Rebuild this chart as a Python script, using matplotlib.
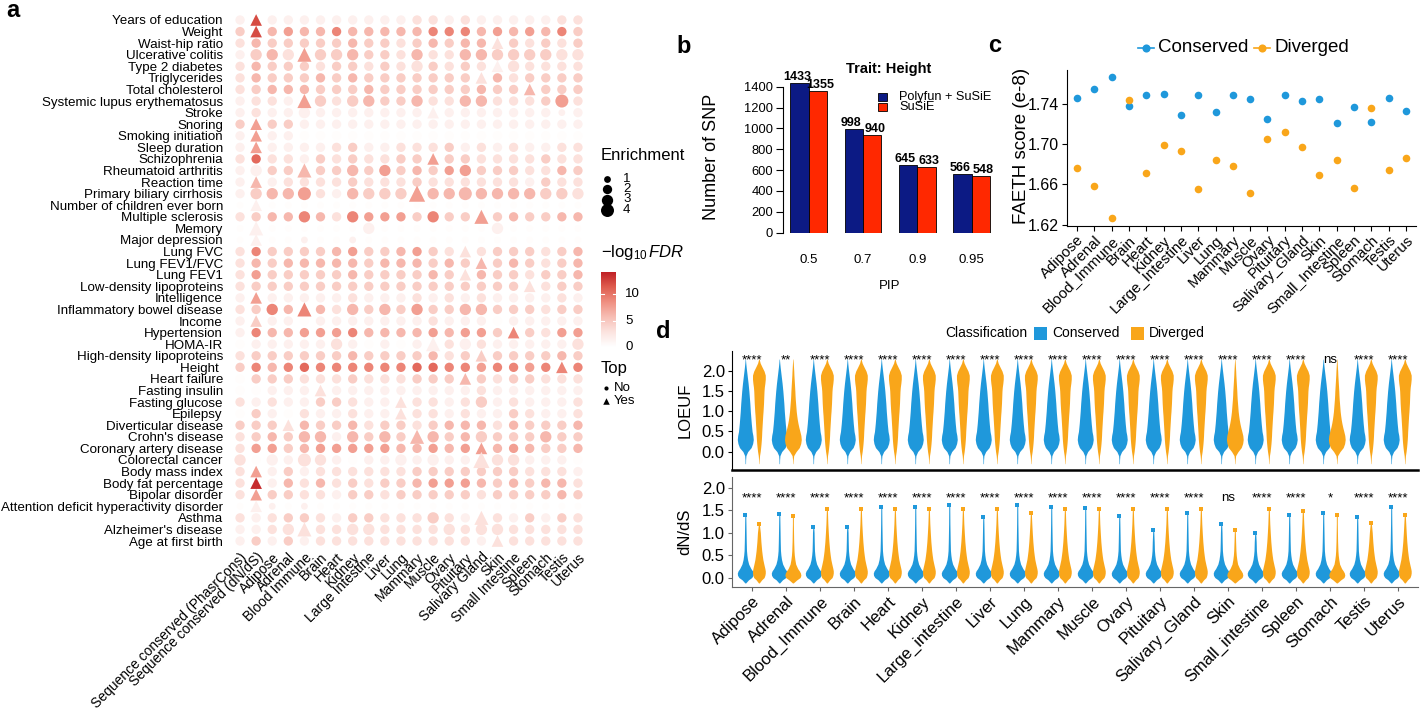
import numpy as np
import matplotlib
matplotlib.use('Agg')
import matplotlib.pyplot as plt
from matplotlib.colors import LinearSegmentedColormap
from matplotlib.patches import Rectangle
from matplotlib.lines import Line2D

plt.rcParams['font.family'] = ['Liberation Sans', 'DejaVu Sans']
plt.rcParams['mathtext.fontset'] = 'custom'
plt.rcParams['mathtext.rm'] = 'Liberation Sans'
plt.rcParams['mathtext.it'] = 'Liberation Sans:italic'

W, H = 1420, 716
fig = plt.figure(figsize=(W / 100, H / 100), dpi=100)


def px_axes(x0, y0, x1, y1):
    return fig.add_axes([x0 / W, 1 - y1 / H, (x1 - x0) / W, (y1 - y0) / H])


# ------------------------------------------------------------------ data (a)
traits = ["Years of education", "Weight", "Waist-hip ratio", "Ulcerative colitis",
          "Type 2 diabetes", "Triglycerides", "Total cholesterol",
          "Systemic lupus erythematosus", "Stroke", "Snoring", "Smoking initiation",
          "Sleep duration", "Schizophrenia", "Rheumatoid arthritis", "Reaction time",
          "Primary biliary cirrhosis", "Number of children ever born",
          "Multiple sclerosis", "Memory", "Major depression", "Lung FVC",
          "Lung FEV1/FVC", "Lung FEV1", "Low-density lipoproteins", "Intelligence",
          "Inflammatory bowel disease", "Income", "Hypertension", "HOMA-IR",
          "High-density lipoproteins", "Height ", "Heart failure", "Fasting insulin",
          "Fasting glucose", "Epilepsy", "Diverticular disease", "Crohn's disease",
          "Coronary artery disease", "Colorectal cancer", "Body mass index",
          "Body fat percentage", "Bipolar disorder",
          "Attention deficit hyperactivity disorder", "Asthma", "Alzheimer's disease",
          "Age at first birth"]
annotations = ["Sequence conserved (PhasrCons)", "Sequence conserved (dN/dS)", "Adipose",
               "Adrenal", "Blood Immune", "Brain", "Heart", "Kidney", "Large Intestine",
               "Liver", "Lung", "Mammary", "Muscle", "Ovary", "Pituitary",
               "Salivary Gland", "Skin", "Small Intestine", "Spleen", "Stomach",
               "Testis", "Uterus"]
# -log10 FDR, one digit per cell (value = digit * 1.5)
fdr_rows = ["1811111111122121111122", "3845446444446664545463", "2433333433234344232323",
            "1342533433242244333322", "2433323323223232122222", "2433343433333332423333",
            "2344433343333334334333", "1221532343342244222352", "1211111111111111111111",
            "3533111111111111111111", "1511000000000000000000", "1511112311222312121122",
            "2722132322335332222322", "1133433435343553332243", "1412222322232222221322",
            "1344521433354444444332", "0100000000000000000000", "2344642655536335343344",
            "0100000010000000100000", "0100100100000000000000", "2633334533453222333234",
            "2434444434443434343234", "2533333433334324332334", "2333333333333333332233",
            "1511111211121212111121", "2364642434353344333233", "1311011111112111011111",
            "1644555644445455363255", "0111112101011212111112", "2333333433334233333343",
            "3646766666677665665666", "0333222322233343233222", "0011121111111112111111",
            "2121133211222123121112", "0310211211222121132112", "3332433423323444243334",
            "2343441434344343333433", "2553455555445455454334", "2011221011111112221110",
            "2513122222233333332221", "2914242323345554343442", "2533221332333332333343",
            "0110100000000000000000", "2123321332223212213132", "1122222222222222222222",
            "1313122222222221222222"]
# Enrichment, one digit per cell
enr_rows = ["2222222222222222222222", "2222222222222222222222", "2222222222222222222222",
            "2333333322232233333333", "2222222222232222232222", "2222222222222222222222",
            "2222222222222222222222", "2222332332232233222242", "2222322222222222222212",
            "2222222222222222222222", "2222222222222222222222", "2222222222222222222222",
            "2222222222222222222222", "2322322323222232222222", "2222222222222222222222",
            "2333422333343343333333", "1211111111111111111111", "2222322322223223222222",
            "1311111131111111311111", "1211111111111111111111", "2222222222222222222222",
            "2222222222222222222222", "2222222222222222222222", "2222222222222222222222",
            "2222222222222222222222", "2232322323232233222222", "2222222222222222222222",
            "2222222222222222222222", "2222223222223232222223", "2222222222222222222222",
            "2222222222222222222222", "2222222222222222222222", "2222222222222222222222",
            "2222222222222223222222", "2222222222222222222222", "2222222222222222222222",
            "2222332323233223222322", "2222222222222222222222", "3232432222323224332222",
            "2222222222222222222222", "2222222222222222222222", "2222222222222222222222",
            "1211111111111111111111", "2222222222223223222222", "2223322332222323322222",
            "2222222222222222222222"]
top_cells = [(0, 1), (1, 1), (2, 16), (3, 4), (4, 16), (5, 15), (6, 18), (7, 4), (8, 12),
             (9, 1), (10, 1), (11, 1), (12, 12), (13, 4), (14, 1), (15, 11), (16, 1),
             (17, 15), (18, 1), (19, 1), (20, 14), (21, 15), (22, 14), (23, 18), (24, 1),
             (25, 4), (26, 1), (27, 17), (28, 12), (29, 15), (30, 20), (31, 14), (32, 5),
             (33, 10), (34, 10), (35, 3), (36, 11), (37, 15), (38, 15), (39, 1), (40, 1),
             (41, 1), (42, 1), (43, 15), (44, 4), (45, 16)]
FDR_STEP = 1.5
FDR_MAX = 14.2

# ------------------------------------------------------------------ data (b)
pip_labels = ["0.5", "0.7", "0.9", "0.95"]
snp_polyfun = [1433, 998, 645, 566]
snp_susie = [1355, 940, 633, 548]

# ------------------------------------------------------------------ data (c)
tissues_c = ["Adipose", "Adrenal", "Blood_Immune", "Brain", "Heart", "Kidney",
             "Large_Intestine", "Liver", "Lung", "Mammary", "Muscle", "Ovary",
             "Pituitary", "Salivary_Gland", "Skin", "Small_Intestine", "Spleen",
             "Stomach", "Testis", "Uterus"]
faeth_cons = [1.746, 1.755, 1.7665, 1.7374, 1.7486, 1.7499, 1.7288, 1.7483, 1.7317, 1.7483,
              1.745, 1.7244, 1.7483, 1.743, 1.7443, 1.7211, 1.737, 1.7218, 1.7456, 1.7327]
faeth_div = [1.6765, 1.658, 1.6265, 1.744, 1.6715, 1.6993, 1.693, 1.6556, 1.6838, 1.6778,
             1.6513, 1.7053, 1.7119, 1.6967, 1.6689, 1.6841, 1.6566, 1.736, 1.6745, 1.6864]

# ------------------------------------------------------------------ data (d)
tissues_d = ["Adipose", "Adrenal", "Blood_Immune", "Brain", "Heart", "Kidney",
             "Large_intestine", "Liver", "Lung", "Mammary", "Muscle", "Ovary",
             "Pituitary", "Salivary_Gland", "Skin", "Small_intestine", "Spleen",
             "Stomach", "Testis", "Uterus"]
# violin outlines: relative half-width at each LOEUF level
loeuf_y = [-0.3, -0.2, -0.1, 0.0, 0.1, 0.2, 0.3, 0.4, 0.5, 0.6, 0.7, 0.8, 0.9, 1.0, 1.1,
           1.2, 1.3, 1.4, 1.5, 1.6, 1.7, 1.8, 1.9, 2.0, 2.1, 2.2, 2.3]
loeuf_cons_w = [0.03, 0.04, 0.08, 0.3, 0.73, 0.92, 1.0, 0.95, 0.85, 0.8, 0.75, 0.71, 0.67,
                0.63, 0.6, 0.57, 0.53, 0.49, 0.45, 0.4, 0.35, 0.29, 0.23, 0.17, 0.11, 0.06, 0.02]
loeuf_div_w = [0.02, 0.04, 0.08, 0.16, 0.22, 0.27, 0.31, 0.34, 0.36, 0.39, 0.42, 0.45, 0.48,
               0.52, 0.55, 0.58, 0.6, 0.62, 0.64, 0.68, 0.75, 0.8, 0.8, 0.65, 0.4, 0.16, 0.03]
loeuf_divlow_w = [0.02, 0.04, 0.1, 0.4, 0.8, 0.98, 1.05, 1.0, 0.88, 0.75, 0.64, 0.55, 0.48,
                  0.42, 0.38, 0.34, 0.3, 0.27, 0.25, 0.22, 0.19, 0.16, 0.13, 0.11, 0.08, 0.05, 0.02]
loeuf_div_shape = ["high", "low", "high", "high", "high", "high", "high", "high", "high",
                   "high", "high", "high", "high", "high", "low", "high", "high", "low",
                   "high", "high"]
loeuf_sig = ["****", "**", "****", "****", "****", "****", "****", "****", "****", "****",
             "****", "****", "****", "****", "****", "****", "****", "ns", "****", "****"]

dnds_y = [-0.12, -0.05, 0.0, 0.05, 0.1, 0.15, 0.2, 0.3, 0.4, 0.5, 0.6, 0.8, 1.0, 1.2]
dnds_cons_w = [0.05, 0.4, 0.8, 0.97, 1.0, 0.9, 0.7, 0.42, 0.28, 0.2, 0.15, 0.12, 0.1, 0.08]
dnds_div_w = [0.05, 0.35, 0.65, 0.75, 0.8, 0.8, 0.75, 0.62, 0.5, 0.42, 0.35, 0.25, 0.18, 0.12]
dnds_divlow_w = [0.05, 0.5, 0.9, 1.0, 0.95, 0.8, 0.6, 0.35, 0.25, 0.18, 0.14, 0.1, 0.08, 0.06]
dnds_div_shape = ["high", "low", "high", "high", "high", "high", "high", "high", "high",
                  "high", "high", "high", "high", "high", "low", "high", "high", "low",
                  "high", "high"]
dnds_cons_max = [1.39, 1.42, 1.13, 1.13, 1.57, 1.57, 1.62, 1.35, 1.62, 1.57, 1.55, 1.37,
                 1.05, 1.44, 1.2, 1.0, 1.4, 1.44, 1.35, 1.57]
dnds_div_max = [1.19, 1.37, 1.52, 1.52, 1.52, 1.52, 1.52, 1.52, 1.44, 1.52, 1.52, 1.52,
                1.52, 1.52, 1.05, 1.52, 1.49, 1.4, 1.22, 1.4]
dnds_sig = ["****", "****", "****", "****", "****", "****", "****", "****", "****", "****",
            "****", "****", "****", "****", "ns", "****", "****", "*", "****", "****"]

BLUE = "#1f98db"
ORANGE = "#f9a61a"
NAVY = "#0c1a84"
RED = "#ff2800"

cmap = LinearSegmentedColormap.from_list(
    "fdr", ["#ffffff", "#fce3df", "#f7bdb3", "#ef8e80", "#de5a4d", "#be1e24"])


def enr_to_s(e):
    return 0.5184 * (41 * e + 5)


# ------------------------------------------------------------------ panel a
axa = px_axes(232, 14.2, 586, 546.8)
top_set = set(top_cells)
cx, cy, cc, cs = [], [], [], []
tx, ty, tc, ts = [], [], [], []
for i, (fr, er) in enumerate(zip(fdr_rows, enr_rows)):
    assert len(fr) == 22 and len(er) == 22, (i, fr, er)
    for j in range(22):
        v = max(int(fr[j]) * FDR_STEP, 0.25)
        e = int(er[j])
        if (i, j) in top_set:
            tx.append(j); ty.append(i); tc.append(v); ts.append(enr_to_s(e) * 1.55)
        else:
            cx.append(j); cy.append(i); cc.append(v); cs.append(enr_to_s(e))
axa.scatter(cx, cy, c=cc, s=cs, cmap=cmap, vmin=0, vmax=FDR_MAX, marker='o',
            linewidths=0)
axa.scatter(tx, ty, c=tc, s=ts, cmap=cmap, vmin=0, vmax=FDR_MAX, marker='^',
            linewidths=0)
axa.set_xlim(-0.5, 21.5)
axa.set_ylim(45.5, -0.5)
for sp in axa.spines.values():
    sp.set_visible(False)
axa.set_yticks(range(len(traits)), traits, fontsize=9.6)
axa.set_xticks(range(len(annotations)), annotations, fontsize=10.0, rotation=45,
               ha='right', rotation_mode='anchor')
axa.tick_params(axis='y', length=0, pad=6.5)
axa.tick_params(axis='x', length=0, pad=2.5)

# ------------------------------------------------------------------ panel b
axb = px_axes(782.7, 76, 997, 232.7)
g = np.arange(len(pip_labels))
bw = 0.337
axb.bar(g - bw / 2, snp_polyfun, bw, color=NAVY, edgecolor='black', lw=0.6)
axb.bar(g + bw / 2, snp_susie, bw, color=RED, edgecolor='black', lw=0.6)
for x, v in zip(g - bw / 2, snp_polyfun):
    axb.text(x - 0.05, v, str(v), ha='center', va='bottom', fontsize=9, fontweight='bold')
for x, v in zip(g + bw / 2, snp_susie):
    axb.text(x + 0.05, v, str(v), ha='center', va='bottom', fontsize=9, fontweight='bold')
axb.set_xlim(-0.479, 3.468)
axb.set_ylim(0, 1502.6)
for sp in ['top', 'right', 'bottom']:
    axb.spines[sp].set_visible(False)
axb.spines['left'].set_bounds(0, 1400)
axb.spines['left'].set_linewidth(0.8)
axb.set_yticks(range(0, 1401, 200))
axb.tick_params(axis='y', labelsize=9.3, length=5, width=0.8, pad=2)
axb.set_xticks(g, pip_labels)
axb.tick_params(axis='x', length=0, pad=15, labelsize=9.5)
axb.patch.set_alpha(0)

# ------------------------------------------------------------------ panel c
axc = px_axes(1066.6, 70, 1416.4, 225.5)
xc = np.arange(len(tissues_c))
axc.scatter(xc, faeth_cons, s=30, color=BLUE, zorder=3, linewidths=0)
axc.scatter(xc, faeth_div, s=30, color=ORANGE, zorder=3, linewidths=0)
axc.set_xlim(-0.6, 19.6)
axc.set_ylim(1.6191, 1.7735)
for sp in ['top', 'right']:
    axc.spines[sp].set_visible(False)
axc.set_yticks([1.62, 1.66, 1.70, 1.74], ["1.62", "1.66", "1.70", "1.74"])
axc.set_xticks(xc, tissues_c, rotation=45, ha='right', rotation_mode='anchor')
axc.tick_params(axis='y', labelsize=11.5, length=3.5, pad=2)
axc.tick_params(axis='x', labelsize=10.8, length=3.5, pad=2)
axc.patch.set_alpha(0)

# ------------------------------------------------------------------ panel d
halfw = 0.235
prof_loeuf = {"cons": loeuf_cons_w, "high": loeuf_div_w, "low": loeuf_divlow_w}
prof_dnds = {"cons": dnds_cons_w, "high": dnds_div_w, "low": dnds_divlow_w}


def violin(ax, xcen, ys, ws, color):
    ys = np.asarray(ys, float)
    ws = np.asarray(ws, float) * halfw
    ax.fill_betweenx(ys, xcen - ws, xcen + ws, color=color, lw=0)


def violin_tail(ax, xcen, ymax, ws_prof, color):
    ys = [y for y in dnds_y if y < ymax - 0.05]
    ws = list(ws_prof[:len(ys)])
    ys.append(ymax)
    ws.append(0.06)
    violin(ax, xcen, ys, ws, color)
    ax.plot([xcen], [ymax], 's', ms=3, color=color, mew=0)


axt = px_axes(731.7, 351, 1418.4, 470)
for i in range(len(tissues_d)):
    violin(axt, i - 0.2, loeuf_y, prof_loeuf["cons"], BLUE)
    violin(axt, i + 0.2, loeuf_y, prof_loeuf[loeuf_div_shape[i]], ORANGE)
    axt.text(i, 2.2, loeuf_sig[i], ha='center', va='baseline', fontsize=9.5)
axt.set_xlim(-0.6, 19.6)
axt.set_ylim(-0.4575, 2.5)
for sp in ['top', 'right']:
    axt.spines[sp].set_visible(False)
axt.spines['bottom'].set_linewidth(1.8)
axt.set_xticks([])
axt.set_yticks([0, 0.5, 1.0, 1.5, 2.0], ["0.0", "0.5", "1.0", "1.5", "2.0"])
axt.tick_params(axis='y', labelsize=12, length=3, pad=2)
axt.patch.set_alpha(0)

axd = px_axes(731.7, 477, 1418.4, 587)
for i in range(len(tissues_d)):
    violin_tail(axd, i - 0.2, dnds_cons_max[i], prof_dnds["cons"], BLUE)
    violin_tail(axd, i + 0.2, dnds_div_max[i], prof_dnds[dnds_div_shape[i]], ORANGE)
    axd.text(i, 1.7, dnds_sig[i], ha='center', va='baseline', fontsize=9.5)
axd.set_xlim(-0.6, 19.6)
axd.set_ylim(-0.21, 2.238)
for sp in ['top', 'right']:
    axd.spines[sp].set_visible(False)
for sp in ['left', 'bottom']:
    axd.spines[sp].set_color('#666666')
axd.set_yticks([0, 0.5, 1.0, 1.5, 2.0], ["0.0", "0.5", "1.0", "1.5", "2.0"])
axd.set_xticks(range(len(tissues_d)), tissues_d, rotation=45, ha='right',
               rotation_mode='anchor')
axd.tick_params(axis='y', labelsize=12, length=3, pad=2, color='#666666')
axd.tick_params(axis='x', labelsize=12, length=3, pad=2, color='#666666')
axd.patch.set_alpha(0)

# ------------------------------------------------------------------ overlay (legends, labels)
ov = fig.add_axes([0, 0, 1, 1])
ov.set_xlim(0, W)
ov.set_ylim(H, 0)
ov.axis('off')
ov.patch.set_alpha(0)

# panel letters
for lab, x, y in [("a", 6, 17), ("b", 676, 53), ("c", 988, 52), ("d", 656, 338)]:
    ov.text(x, y, lab, fontsize=17, fontweight='bold', ha='left', va='baseline')

# enrichment legend
ov.text(601, 155, "Enrichment", fontsize=12, ha='left', va='center')
for k, yy in zip([1, 2, 3, 4], [178.5, 189, 199.5, 210]):
    ov.scatter([607], [yy], s=enr_to_s(k), color='black', linewidths=0)
    ov.text(623, yy, str(k), fontsize=9.5, ha='left', va='center')

# -log10 FDR legend
ov.text(601, 253, r"$-\log_{10}\mathit{FDR}$", fontsize=12, ha='left', va='center')
cax = px_axes(601, 272, 616, 347)
grad = np.linspace(FDR_MAX, 0, 200).reshape(-1, 1)
cax.imshow(grad, aspect='auto', cmap=cmap, vmin=0, vmax=FDR_MAX,
           extent=[0, 1, 0, FDR_MAX])
cax.set_xlim(0, 1)
cax.set_ylim(0, FDR_MAX)
cax.axis('off')
for v in [0, 5, 10]:
    cax.plot([0, 0.2], [v, v], color='white', lw=0.8)
    cax.plot([0.8, 1], [v, v], color='white', lw=0.8)
    ov.text(625, 347 - v * 75 / FDR_MAX, str(v), fontsize=9.5, ha='left', va='center')

# Top legend
ov.text(601, 369, "Top", fontsize=12, ha='left', va='center')
ov.scatter([606], [388], s=9, color='black', marker='o', linewidths=0)
ov.text(614, 388, "No", fontsize=9.5, ha='left', va='center')
ov.scatter([606], [401], s=22, color='black', marker='^', linewidths=0)
ov.text(614, 401, "Yes", fontsize=9.5, ha='left', va='center')

# panel b texts
ov.text(712, 157, "Number of SNP", fontsize=13, rotation=90, ha='center', va='center')
ov.text(889, 69, "Trait: Height", fontsize=10.5, fontweight='bold', ha='center',
        va='center')
ov.add_patch(Rectangle((878, 92.5), 9, 8.5, facecolor=NAVY, edgecolor='black', lw=0.6))
ov.add_patch(Rectangle((878, 102.5), 9, 8.5, facecolor=RED, edgecolor='black', lw=0.6))
ov.text(899, 97, "Polyfun + SuSiE", fontsize=9.2, ha='left', va='center')
ov.text(899, 107, "SuSiE", fontsize=9.2, ha='left', va='center')
ov.text(890, 286, "PIP", fontsize=9.5, ha='center', va='center')

# panel c texts
ov.text(1021, 146, "FAETH score (e-8)", fontsize=13.5, rotation=90, ha='center',
        va='center')
ov.add_line(Line2D([1138, 1154], [48, 48], color=BLUE, lw=1.2))
ov.scatter([1146], [48], s=34, color=BLUE, linewidths=0)
ov.text(1158, 48, "Conserved", fontsize=13.5, ha='left', va='center')
ov.add_line(Line2D([1254, 1270], [48, 48], color=ORANGE, lw=1.2))
ov.scatter([1262], [48], s=34, color=ORANGE, linewidths=0)
ov.text(1274, 48, "Diverged", fontsize=13.5, ha='left', va='center')

# panel d texts
ov.text(1027, 333, "Classification", fontsize=10, ha='right', va='center')
ov.add_patch(Rectangle((1034, 326.5), 13, 13, facecolor=BLUE, edgecolor='none'))
ov.text(1052, 333, "Conserved", fontsize=10, ha='left', va='center')
ov.add_patch(Rectangle((1131, 326.5), 13, 13, facecolor=ORANGE, edgecolor='none'))
ov.text(1149, 333, "Diverged", fontsize=10, ha='left', va='center')
ov.text(685, 410, "LOEUF", fontsize=12, rotation=90, ha='center', va='center')
ov.text(685, 532, "dN/dS", fontsize=12, rotation=90, ha='center', va='center')

fig.savefig("out.png", dpi=100)
